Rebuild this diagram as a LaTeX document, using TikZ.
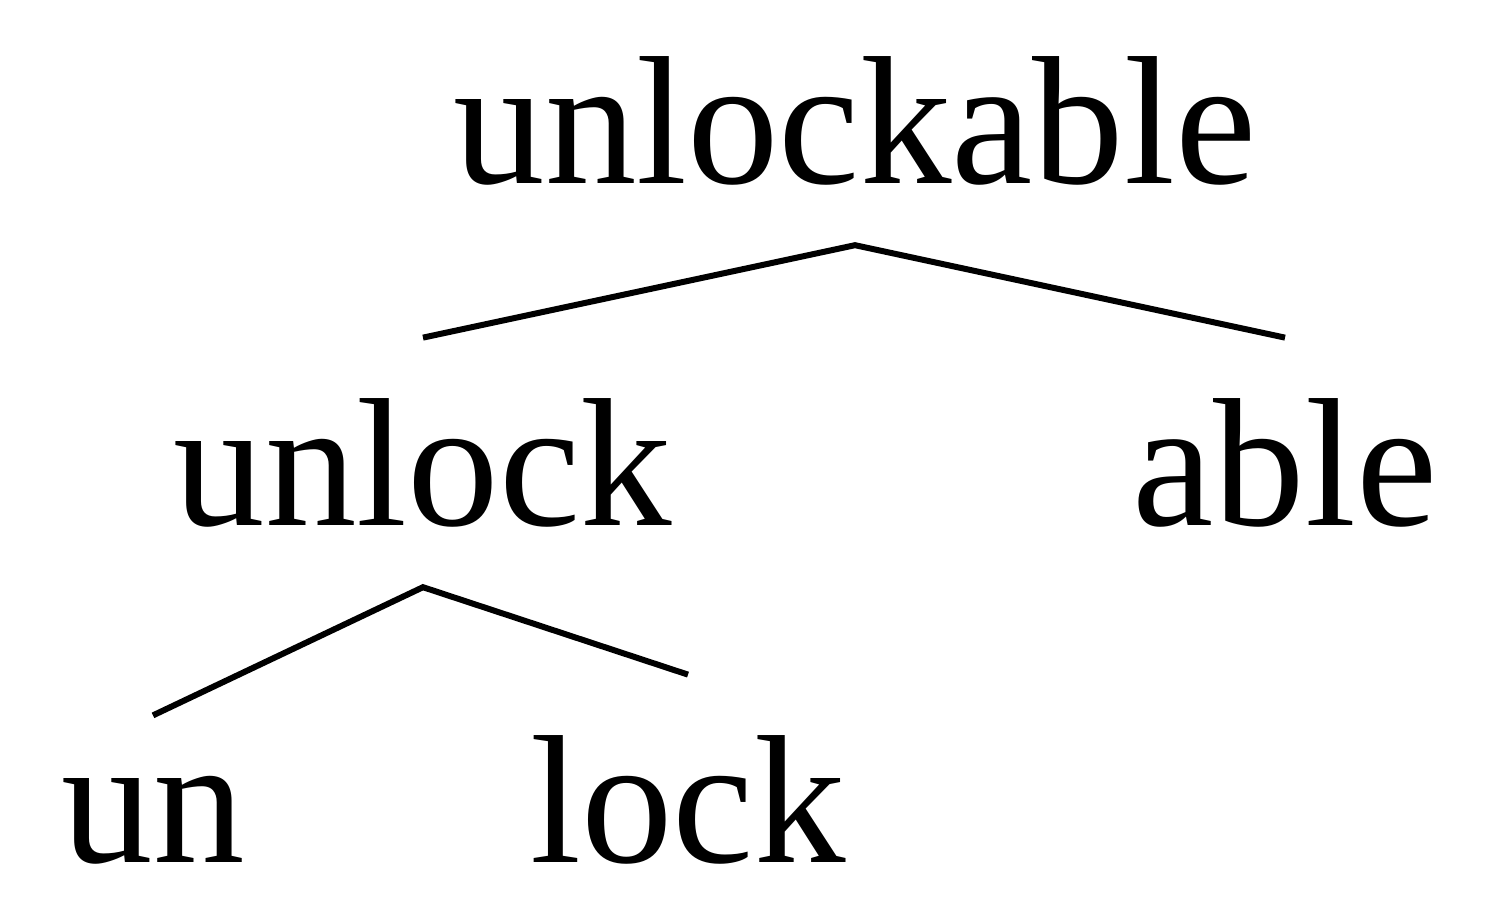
\documentclass[tikz,border=0pt]{standalone}
\usepackage{fontspec}
\setmainfont{Liberation Serif}
\begin{document}
\begin{tikzpicture}[x=0.5pt,y=-0.5pt,
  word/.style={font=\fontsize{91.5}{100}\selectfont, inner xsep=0pt, inner ysep=30pt, anchor=base},
  branch/.style={line width=3pt}]
\useasboundingbox (0,0) rectangle (1500,921);
\node[word] (top) at (855,183) {unlockable};
\node[word] (unlock) at (423,525) {unlock};
\node[word] (able) at (1285,525) {able};
\node[word] (un) at (153,862) {un};
\node[word] (lock) at (688,862) {lock};
\draw[branch] (unlock.north) -- (top.south) -- (able.north);
\draw[branch] (un.north) -- (unlock.south) -- (lock.north);
\end{tikzpicture}
\end{document}
